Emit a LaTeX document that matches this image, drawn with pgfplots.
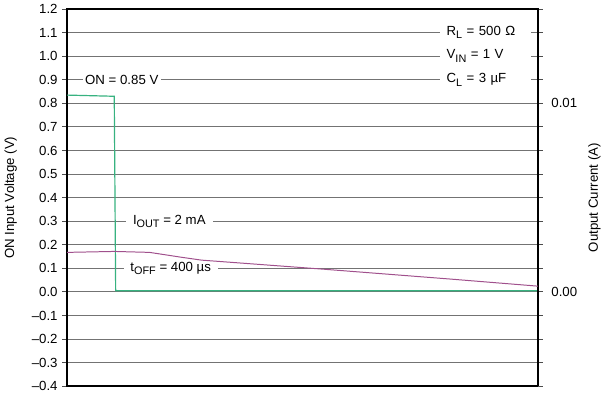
\documentclass[border=0pt]{standalone}
\usepackage{fontspec}
\setmainfont{Liberation Sans}
\usepackage{pgfplots}
\pgfplotsset{compat=1.18}
\definecolor{tigreen}{RGB}{55,178,128}
\definecolor{tipurple}{RGB}{160,80,140}
\newcommand{\sub}[1]{\raisebox{-0.5ex}{\fontsize{8.2}{9}\selectfont #1}}
\begin{document}
\begin{tikzpicture}
\begin{axis}[
  scale only axis, width=355.5pt, height=285pt,
  xmin=0, xmax=10, ymin=-0.4, ymax=1.2,
  xtick=\empty,
  ytick={-0.4,-0.3,-0.2,-0.1,0,0.1,0.2,0.3,0.4,0.5,0.6,0.7,0.8,0.9,1.0,1.1,1.2},
  yticklabels={–0.4,–0.3,–0.2,–0.1,0.0,0.1,0.2,0.3,0.4,0.5,0.6,0.7,0.8,0.9,1.0,1.1,1.2},
  ytick pos=left, tick align=outside, major tick length=3.75pt,
  tick style={black!70, line width=0.75pt},
  ymajorgrids, grid style={black!55, line width=0.75pt},
  axis line style={line width=1.5pt},
  ylabel={ON Input Voltage (V)},
  ylabel style={at={(axis description cs:-0.1203,0.5)}, anchor=center},
  clip=false,
]
\node[fill=white, inner sep=2pt, anchor=center] at (axis cs:1.16,0.9) {ON = 0.85 V};
\node[fill=white, inner xsep=5.25pt, inner ysep=2pt, anchor=center] at (axis cs:2.17,0.3) {I\sub{OUT} = 2 mA};
\node[fill=white, inner xsep=5.25pt, inner ysep=2pt, anchor=center] at (axis cs:2.2,0.1) {t\sub{OFF} = 400 µs};
\node[fill=white, inner xsep=5.25pt, inner ysep=2pt, text width=58.5pt, align=left, anchor=west] at (axis cs:7.91,1.1) {R\sub{L} = 500 Ω};
\node[fill=white, inner xsep=5.25pt, inner ysep=2pt, text width=58.5pt, align=left, anchor=west] at (axis cs:7.91,1.0) {V\sub{IN} = 1 V};
\node[fill=white, inner xsep=5.25pt, inner ysep=2pt, text width=58.5pt, align=left, anchor=west] at (axis cs:7.91,0.9) {C\sub{L} = 3 µF};
\addplot[tigreen, line width=0.9pt] coordinates {(0,0.835) (1.0,0.83) (1.03,0.005) (10,0.005)};
\end{axis}
\begin{axis}[
  scale only axis, width=355.5pt, height=285pt,
  xmin=0, xmax=10, ymin=-0.005, ymax=0.015,
  axis x line=none, axis y line*=right,
  scaled y ticks=false,
  ytick={0,0.01}, yticklabels={0.00,0.01},
  minor ytick={-0.005,-0.00375,-0.0025,-0.00125,0.00125,0.0025,0.00375,0.005,0.00625,0.0075,0.00875,0.01125,0.0125,0.01375,0.015},
  tick align=outside, major tick length=3.75pt, minor tick length=3.75pt,
  tick style={black!70, line width=0.75pt},
  yticklabel style={xshift=3pt},
  axis line style={line width=1.5pt},
  ylabel={Output Current (A)},
  ylabel style={at={(axis description cs:1.1203,0.5)}, anchor=center},
]
\addplot[tipurple, line width=0.75pt] coordinates {(0,0.00210) (0.8,0.00214) (1.0,0.00215) (1.75,0.00210) (2.43,0.00184) (2.85,0.00169) (5.44,0.00121) (8.12,0.00069) (10,0.00031)};
\end{axis}
\end{tikzpicture}
\end{document}
